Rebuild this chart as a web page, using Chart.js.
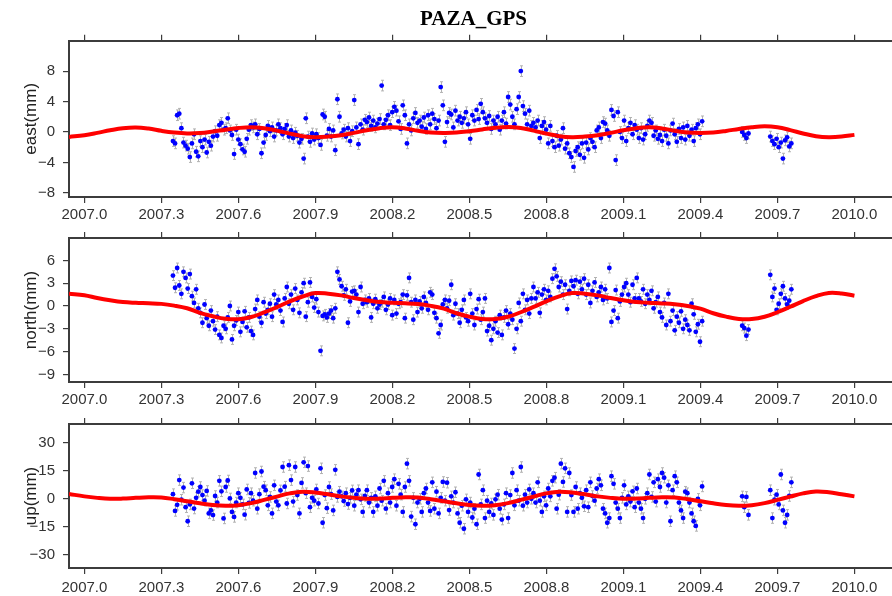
<!DOCTYPE html>
<html lang="en">
<head>
<meta charset="utf-8">
<title>PAZA_GPS</title>
<script src="https://cdn.jsdelivr.net/npm/chart.js@4.4.1/dist/chart.umd.min.js"></script>
<style>
  html, body { margin: 0; padding: 0; background: #fff; overflow: hidden; }
  canvas { position: absolute; left: 0; }
</style>
</head>
<body>
<canvas id="eastChart" width="947" height="222" style="top:0px"></canvas>
<canvas id="northChart" width="947" height="186" style="top:221px"></canvas>
<canvas id="upChart" width="947" height="189" style="top:407px"></canvas>

<script type="text/javascript">

// observation epochs, days counted from 2007-01-01
const obsDays = [
  126,129,132,135,138,141,144,
  147,150,153,156,159,162,
  165,168,171,174,177,180,
  183,186,189,192,195,198,
  201,204,207,210,213,216,219,
  222,225,228,231,234,237,
  240,243,246,249,252,255,
  258,261,264,267,270,273,
  276,279,282,285,288,291,
  294,297,300,303,306,309,
  312,315,318,321,324,327,
  330,333,336,339,342,345,
  348,351,354,357,360,363,
  366,369,372,375,378,381,
  384,387,390,393,396,399,
  402,405,408,411,414,417,420,
  423,426,429,432,435,438,
  441,444,447,450,453,456,
  459,462,465,468,471,474,
  477,480,483,486,489,492,
  495,498,501,504,507,510,
  513,516,519,522,525,528,
  531,534,537,540,543,546,
  549,552,555,558,561,564,
  567,570,573,576,579,582,
  585,588,591,594,597,600,
  603,606,609,612,615,618,
  621,624,627,630,633,636,
  639,642,645,648,651,654,657,
  660,663,666,669,672,675,
  678,681,684,687,690,693,
  696,699,702,705,708,711,
  714,717,720,723,726,729,
  732,735,738,741,744,747,
  750,753,756,759,762,765,
  768,771,774,777,780,783,
  786,789,792,795,798,801,
  804,807,810,813,816,819,
  822,825,828,831,834,837,
  840,843,846,849,852,855,
  858,861,864,867,870,873,876,879,
  936,939,942,945,
  976,979,982,985,988,991,994,997,1000,1003,1006
];

const eastVals = [
  -1.2,-1.5,2.2,2.4,0.5,-1.4,-1.8,
  -2.2,-3.3,-1.5,-0.3,-2.6,-3.2,
  -1.2,-2.0,-1.0,-2.7,-1.3,-1.8,
  -0.6,0.1,-0.5,0.9,1.2,0.3,
  0.5,1.8,0.2,-0.4,-2.9,0.3,-1.0,
  -1.6,-2.3,-2.6,-0.9,0.3,0.9,
  0.6,1.0,-0.3,0.4,-2.8,-1.4,
  -0.4,0.8,0.1,0.6,-0.6,0.2,
  1.0,0.5,-0.3,0.4,0.9,-0.6,
  0.2,-0.8,-0.1,-0.5,-1.4,-0.9,
  -3.5,1.8,-0.6,-1.3,-0.2,-1.0,
  -0.3,-0.8,-1.7,2.3,2.0,-0.5,
  0.4,-0.6,0.2,-2.4,4.3,2.0,
  -0.2,0.3,-0.6,0.5,-1.2,0.1,
  4.2,0.6,-1.6,1.0,0.3,1.6,
  1.3,1.9,0.8,1.5,0.6,1.1,1.7,
  6.1,1.0,1.6,2.2,0.9,2.6,
  3.3,2.8,1.4,0.4,3.5,2.2,
  -1.5,1.0,0.2,1.8,2.5,1.2,
  1.5,0.7,1.9,0.4,2.2,1.0,
  2.4,1.7,0.5,1.5,5.9,3.5,
  -1.3,1.3,2.5,2.3,0.6,2.8,
  1.5,2.0,1.2,1.8,2.6,1.0,
  -0.9,2.2,1.5,2.9,1.7,3.7,
  2.6,1.8,1.2,2.1,0.4,1.5,
  1.0,2.0,0.3,1.5,2.6,1.1,
  4.6,3.6,2.0,1.0,3.0,4.6,
  8.0,3.4,2.4,1.0,2.8,0.8,
  1.2,0.6,1.5,-0.8,0.8,1.3,0.3,
  -1.5,0.8,-1.2,-2.0,-0.5,-1.8,
  -1.0,0.5,-2.2,-1.5,-2.8,-3.3,
  -4.6,-2.5,-2.0,-3.0,-1.5,-3.4,
  -1.4,-2.3,-0.8,-1.3,-2.0,0.2,
  0.6,-0.8,1.3,1.1,0.2,-0.5,
  2.9,2.1,-3.7,2.6,0.0,-0.8,
  1.5,-1.2,0.5,1.2,-0.3,0.9,
  0.3,-0.8,0.5,-1.0,-0.3,0.8,
  1.5,1.2,-0.5,0.2,-0.9,-0.4,
  -1.2,0.3,-0.5,-1.5,0.2,1.1,
  -0.3,-1.3,0.4,-0.8,0.6,-1.0,
  0.8,-0.5,0.3,-1.2,0.5,1.0,-0.3,1.4,
  0.0,-0.4,-0.8,-0.2,
  -0.6,-1.2,-1.6,-0.9,-2.0,-1.4,-3.5,-1.1,-0.7,-1.9,-1.5
];

const northVals = [
  4.0,2.4,5.0,2.7,1.6,4.5,3.7,
  2.3,4.2,1.3,0.4,2.2,-0.3,
  -0.9,-2.2,0.2,-1.6,-2.6,-0.6,
  -2.0,-3.1,-1.4,-3.8,-4.2,-2.6,
  -3.0,-1.5,0.0,-4.4,-2.6,-1.9,-0.8,
  -3.4,-2.1,-0.7,-2.8,-1.5,-3.3,
  -3.8,-0.4,0.8,-1.4,-2.2,0.5,
  -1.0,-0.5,0.3,-1.4,1.5,0.2,
  0.8,-0.6,-2.1,1.0,2.5,0.3,
  1.5,-0.5,2.3,0.8,-0.9,1.8,
  3.0,-1.4,0.5,3.1,1.2,-0.2,
  0.9,-0.8,-5.9,-1.3,-1.1,-1.5,
  -1.0,-0.6,-1.6,-0.3,4.5,3.5,
  2.6,1.4,2.2,-2.2,0.6,1.9,
  2.0,1.5,-0.8,2.5,0.3,0.8,
  0.5,1.0,-1.5,0.3,0.9,-0.3,0.2,
  0.5,1.2,-0.5,0.2,1.0,-1.2,
  0.8,-1.0,0.3,0.5,1.5,-1.6,
  1.4,3.7,0.5,-1.8,0.8,-0.8,
  0.6,-0.3,1.2,0.4,-0.5,1.8,
  1.5,-0.9,-1.6,-3.6,-2.5,0.2,
  0.8,-0.3,0.7,2.8,-1.2,0.3,
  -1.0,-2.2,-0.5,0.8,-1.5,-2.0,
  1.6,-1.0,-2.5,-0.4,0.9,-1.8,
  -0.8,1.0,-3.3,-2.6,-4.5,-3.0,
  -2.0,-3.5,-1.2,-3.8,-1.5,-0.6,
  -2.4,-1.0,-1.8,-5.6,-3.0,0.4,
  -2.0,1.6,-0.5,0.8,-1.0,1.0,
  2.5,1.0,1.8,-0.9,1.5,2.2,0.8,
  2.0,1.2,3.6,4.9,3.9,2.5,
  3.2,1.5,2.8,-0.4,2.0,3.3,
  2.6,3.4,1.6,3.2,2.2,3.6,
  1.5,2.8,0.4,2.0,3.1,1.2,
  1.8,2.5,0.8,2.2,1.0,5.0,
  -2.1,-0.6,2.1,-1.6,0.6,1.5,
  2.5,3.0,1.5,0.5,2.8,1.0,
  3.7,1.0,0.6,2.2,0.3,1.5,
  0.8,2.0,-0.3,0.5,1.2,-0.8,
  -1.5,0.4,-2.5,1.6,-2.0,-0.6,
  -3.2,-1.4,-2.2,-0.7,-3.0,-1.8,
  -2.5,-3.2,0.3,-1.1,-3.4,-2.4,-4.7,-2.0,
  -2.6,-2.9,-3.9,-3.1,
  4.1,1.2,2.3,-0.5,0.3,1.6,2.6,1.0,0.2,0.7,2.2
];

const upVals = [
  2.5,-6.5,-3.2,10.0,-0.5,6.0,-4.5,
  -12.0,-3.0,8.3,-5.2,0.5,3.8,
  6.3,2.0,-1.0,4.2,-7.8,-6.2,
  -8.7,1.5,-2.0,9.6,4.0,-10.5,
  6.3,9.8,0.2,-7.0,-9.7,-2.0,3.0,
  0.5,-3.0,-8.5,5.0,-2.2,3.0,
  -1.0,13.8,-5.3,2.5,14.6,6.5,
  4.6,-3.5,1.0,-7.8,7.2,-1.5,
  -3.5,4.5,17.0,6.5,-2.5,18.0,
  10.0,-1.5,17.0,2.0,-7.8,8.5,
  19.5,3.0,17.5,-4.5,0.5,-1.0,
  5.0,-2.5,16.3,-12.8,2.0,-5.0,
  6.3,2.5,-6.2,15.5,1.0,3.8,
  1.3,-1.2,3.0,-2.8,0.5,4.5,
  -3.7,2.2,4.6,-0.3,-7.0,1.5,
  4.6,-2.0,0.5,-7.0,1.3,-3.7,5.5,
  -1.0,9.6,-5.3,3.0,-2.0,6.3,
  10.5,-3.7,8.0,2.2,-7.0,6.3,
  18.8,9.6,-9.5,0.5,-13.6,-2.0,
  0.0,-7.0,3.0,5.5,-2.0,-6.5,
  8.8,-5.3,3.8,-7.8,0.5,9.0,
  -1.0,8.6,-6.0,1.3,-2.0,3.5,
  -7.8,-12.8,-3.7,-16.0,-0.3,-7.0,
  -2.0,-10.0,-5.3,-13.6,13.0,-3.0,
  4.6,-10.3,-1.0,-7.0,-2.5,-8.6,
  -0.3,2.2,-5.3,-11.1,-3.0,3.0,
  -10.3,2.0,13.8,-3.5,4.6,-1.0,
  17.0,-3.7,2.2,-2.0,5.0,0.0,
  3.0,-2.0,8.8,-1.0,-7.0,1.3,-3.5,
  5.5,1.3,9.6,11.3,-5.3,2.2,
  18.8,9.0,16.3,-7.0,13.8,2.0,
  -7.0,6.3,-5.3,3.0,0.5,-4.0,
  4.6,-4.5,8.8,1.5,-1.0,5.5,
  10.5,7.2,-5.3,-7.8,-12.8,-10.3,
  12.1,8.0,-2.0,-5.3,-10.3,0.5,
  7.2,-3.0,1.3,-1.5,4.0,-4.5,
  5.5,-2.0,-5.3,-10.3,0.0,3.0,
  13.0,1.0,8.8,-1.5,10.5,6.3,
  13.8,11.3,-2.0,7.2,-12.0,4.6,
  12.1,8.8,-2.0,-6.2,-10.3,3.8,
  3.0,-2.0,-7.8,-12.0,-14.5,0.0,-3.5,6.6,
  1.3,-4.5,1.0,-8.6,
  4.6,-10.3,-0.5,2.2,-3.0,13.0,-6.2,-12.8,-8.6,1.5,8.8
];

// typical one-sigma error bar per component (mm)
const eastSigma = 0.7;
const northSigma = 0.65;
const upSigma = 2.8;

// seasonal model curve
const curveT = [
  2006.94,
  2007.00,2007.05,2007.10,2007.15,2007.20,2007.25,2007.30,2007.35,2007.40,2007.45,
  2007.50,2007.55,2007.60,2007.65,2007.70,2007.75,2007.80,2007.85,2007.90,2007.95,
  2008.00,2008.05,2008.10,2008.15,2008.20,2008.25,2008.30,2008.35,2008.40,2008.45,
  2008.50,2008.55,2008.60,2008.65,2008.70,2008.75,2008.80,2008.85,2008.90,2008.95,
  2009.00,2009.05,2009.10,2009.15,2009.20,2009.25,2009.30,2009.35,2009.40,2009.45,
  2009.50,2009.55,2009.60,2009.65,2009.70,2009.75,2009.80,2009.85,2009.90,2009.95,
  2010.00
];
const eastFit = [
  -0.66,
  -0.42,-0.12,0.22,0.50,0.60,0.45,0.15,-0.08,-0.20,-0.15,
  0.05,0.30,0.52,0.62,0.50,0.18,-0.22,-0.55,-0.68,-0.60,
  -0.42,-0.12,0.22,0.50,0.62,0.47,0.16,-0.06,-0.12,-0.08,
  0.10,0.33,0.55,0.65,0.52,0.18,-0.22,-0.55,-0.68,-0.60,
  -0.42,-0.12,0.22,0.50,0.62,0.47,0.16,-0.06,-0.12,-0.06,
  0.14,0.40,0.62,0.74,0.62,0.25,-0.20,-0.55,-0.68,-0.60,
  -0.38
];
const northFit = [
  1.63,
  1.42,1.05,0.75,0.52,0.42,0.36,0.28,0.05,-0.30,-0.90,
  -1.35,-1.68,-1.74,-1.45,-0.85,-0.15,0.60,1.25,1.70,1.62,
  1.40,1.05,0.75,0.52,0.42,0.36,0.25,0.02,-0.35,-0.95,
  -1.40,-1.70,-1.72,-1.42,-0.82,-0.12,0.62,1.28,1.70,1.62,
  1.40,1.05,0.75,0.52,0.42,0.34,0.22,0.00,-0.35,-0.95,
  -1.40,-1.70,-1.72,-1.42,-0.82,-0.10,0.65,1.30,1.72,1.65,
  1.35
];
const upFit = [
  2.6,
  1.3,0.5,0.0,0.1,0.5,0.8,0.7,-0.2,-1.3,-2.4,
  -3.3,-3.7,-3.4,-2.3,-0.6,1.2,2.9,3.8,3.4,2.4,
  1.3,0.5,0.0,0.1,0.5,0.8,0.7,-0.2,-1.3,-2.4,
  -3.3,-3.7,-3.4,-2.3,-0.6,1.2,2.9,3.8,3.4,2.4,
  1.3,0.5,0.0,0.1,0.5,0.8,0.7,-0.2,-1.3,-2.4,
  -3.3,-3.7,-3.4,-2.3,-0.6,1.2,2.9,3.9,3.5,2.4,
  1.3
];

// tick labels
const yearTicks = [2007.0, 2007.3, 2007.6, 2007.9, 2008.2, 2008.5, 2008.8, 2009.1, 2009.4, 2009.7, 2010.0];
const eastTicks = [-8, -4, 0, 4, 8];
const northTicks = [-9, -6, -3, 0, 3, 6];
const upTicks = [-30, -15, 0, 15, 30];

const xMin = 2006.94, xMax = 2010.162;
const axisColor = '#3c3c3c';
const labelColor = '#333';
const sansFont = "'Liberation Sans', Arial, Helvetica, sans-serif";

// grey error bars drawn under the points
const errorBars = {
    id: 'errorBars',
    beforeDatasetsDraw(chart) {
        const ds = chart.data.datasets[1];
        const xs = chart.scales.x, ys = chart.scales.y;
        const ctx = chart.ctx;
        const area = chart.chartArea;
        ctx.save();
        ctx.beginPath();
        ctx.rect(area.left, area.top, area.right - area.left, area.bottom - area.top);
        ctx.clip();
        ctx.strokeStyle = '#b2b2b2';
        ctx.lineWidth = 1;
        ctx.beginPath();
        ds.data.forEach(p => {
            const px = Math.round(xs.getPixelForValue(p.x)) + 0.5;
            const y1 = ys.getPixelForValue(p.y + ds.sigma);
            const y2 = ys.getPixelForValue(p.y - ds.sigma);
            ctx.moveTo(px, y1); ctx.lineTo(px, y2);
            ctx.moveTo(px - 1.5, y1); ctx.lineTo(px + 1.5, y1);
            ctx.moveTo(px - 1.5, y2); ctx.lineTo(px + 1.5, y2);
        });
        ctx.stroke();
        ctx.restore();
    }
};

function minusLabel(v) {
    return v < 0 ? '\u2212' + Math.abs(v) : String(v);
}

function makePanel(canvasId, cfg) {
    const points = obsDays.map((d, i) => ({x: 2007 + d / 365.25, y: cfg.values[i]}));
    const curve = curveT.map((t, i) => ({x: t, y: cfg.fit[i]}));

    return new Chart(canvasId, {
        type: 'scatter',
        data: {
            datasets: [
                {
                    type: 'line',
                    data: curve,
                    xAxisID: 'x',
                    yAxisID: 'y',
                    borderColor: '#ff0000',
                    borderWidth: 4,
                    pointRadius: 0,
                    tension: 0.4,
                    fill: false
                },
                {
                    data: points,
                    xAxisID: 'x',
                    yAxisID: 'y',
                    sigma: cfg.sigma,
                    backgroundColor: '#0000ff',
                    borderWidth: 0,
                    pointRadius: 2.4
                }
            ]
        },
        options: {
            responsive: false,
            animation: false,
            events: [],
            layout: {padding: 0},
            plugins: {
                legend: {display: false},
                tooltip: {enabled: false},
                title: cfg.title ? {
                    display: true,
                    text: cfg.title,
                    color: '#000',
                    font: {family: "'Liberation Serif', 'Times New Roman', serif", size: 21, weight: 'bold'},
                    padding: {top: 7, bottom: 2.5}
                } : {display: false}
            },
            scales: {
                x: {
                    type: 'linear',
                    position: 'bottom',
                    min: xMin,
                    max: xMax,
                    afterBuildTicks: s => { s.ticks = yearTicks.map(v => ({value: v})); },
                    afterFit: s => { s.height = cfg.bottomH; },
                    ticks: {
                        callback: v => v.toFixed(1),
                        color: labelColor,
                        font: {family: sansFont, size: 15},
                        padding: cfg.labelPad,
                        maxRotation: 0,
                        autoSkip: false
                    },
                    grid: {drawOnChartArea: false, drawTicks: true, tickLength: 6, color: axisColor, lineWidth: 1.2},
                    border: {display: true, color: axisColor, width: 2}
                },
                xTop: {
                    type: 'linear',
                    position: 'top',
                    min: xMin,
                    max: xMax,
                    afterBuildTicks: s => { s.ticks = yearTicks.map(v => ({value: v})); },
                    afterFit: s => { s.height = cfg.topH; },
                    ticks: {display: false},
                    grid: {drawOnChartArea: false, drawTicks: true, tickLength: 6, color: axisColor, lineWidth: 1.2},
                    border: {display: true, color: axisColor, width: 2}
                },
                y: {
                    type: 'linear',
                    position: 'left',
                    min: cfg.yMin,
                    max: cfg.yMax,
                    afterBuildTicks: s => { s.ticks = cfg.ticks.map(v => ({value: v})); },
                    afterFit: s => { s.width = 69; },
                    ticks: {
                        callback: v => minusLabel(v),
                        color: labelColor,
                        font: {family: sansFont, size: 15},
                        padding: 8
                    },
                    grid: {drawOnChartArea: false, drawTicks: true, tickLength: 6, color: axisColor, lineWidth: 1.2},
                    border: {display: true, color: axisColor, width: 2},
                    title: {
                        display: true,
                        text: cfg.label,
                        color: '#222',
                        font: {family: sansFont, size: 17},
                        padding: {top: 21, bottom: 0}
                    }
                },
                yRight: {
                    type: 'linear',
                    position: 'right',
                    display: true,
                    afterFit: s => { s.width = 51; },
                    ticks: {display: false},
                    grid: {display: false},
                    border: {display: false}
                }
            }
        },
        plugins: [errorBars]
    });
}

makePanel('eastChart', {
    title: 'PAZA_GPS', label: 'east(mm)',
    values: eastVals, fit: eastFit, sigma: eastSigma,
    yMin: -8.55, yMax: 12, ticks: eastTicks,
    topH: 6, bottomH: 25, labelPad: 3
});

makePanel('northChart', {
    label: 'north(mm)',
    values: northVals, fit: northFit, sigma: northSigma,
    yMin: -10, yMax: 8.95, ticks: northTicks,
    topH: 6, bottomH: 25, labelPad: 3
});

makePanel('upChart', {
    label: 'up(mm)',
    values: upVals, fit: upFit, sigma: upSigma,
    yMin: -37, yMax: 40, ticks: upTicks,
    topH: 7, bottomH: 28, labelPad: 5
});

</script>
</body>
</html>
